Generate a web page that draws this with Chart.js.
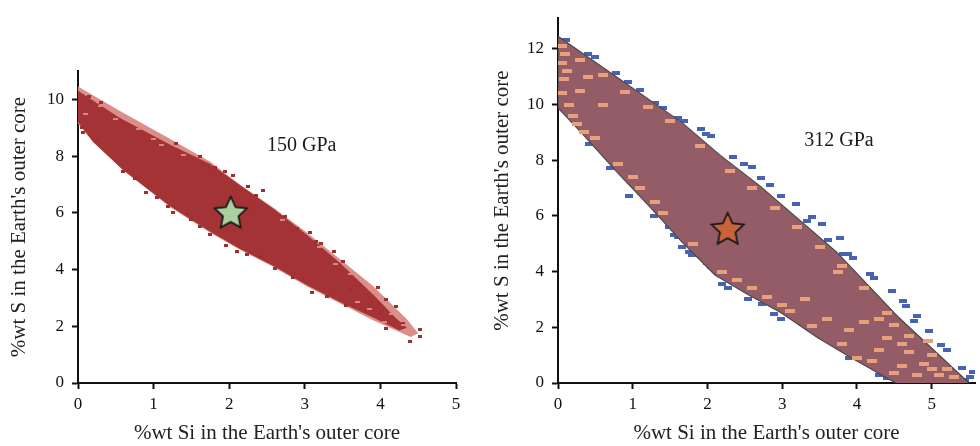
<!DOCTYPE html>
<html>
<head>
<meta charset="utf-8">
<script src="https://cdn.jsdelivr.net/npm/chart.js@4.4.1/dist/chart.umd.min.js"></script>
<style>
    html, body { margin: 0; padding: 0; background: #fff; }
    #wrap { position: relative; width: 980px; height: 446px; overflow: hidden; }
    #c150 { position: absolute; left: 0; top: 0; }
    #c312 { position: absolute; left: 490px; top: 0; }
</style>
</head>
<body>
<div id="wrap">
    <canvas id="c150" width="470" height="446"></canvas>
    <canvas id="c312" width="490" height="446"></canvas>
</div>
<script>
// ---- data (x = %wt Si, y = %wt S) ----
const xTitle = "%wt Si in the Earth's outer core";
const yTitle = "%wt S in the Earth's outer core";
const xTicks150 = [0, 1, 2, 3, 4, 5];
const yTicks150 = [0, 2, 4, 6, 8, 10];
const xTicks312 = [0, 1, 2, 3, 4, 5];
const yTicks312 = [0, 2, 4, 6, 8, 10, 12];

// 150 GPa panel
const label150 = '150 GPa';
const label150At = [2.96, 8.38];
const envelope150 = [
    [0, 10.45], [0.55, 9.6], [1.22, 8.6], [1.75, 7.8], [2.14, 7.0], [2.6, 6.15],
    [3.03, 5.3], [3.47, 4.35], [3.91, 3.4], [4.35, 2.25], [4.5, 1.75],
    [4.4, 1.62], [3.91, 2.2], [3.47, 2.8], [3.03, 3.4], [2.58, 4.1], [2.14, 4.7],
    [1.75, 5.3], [1.22, 6.2], [0.6, 7.5], [0.2, 8.5], [0, 9.15], [0, 10.45]
];
const cloud150 = [
    [0, 10.3], [0.55, 9.35], [1.22, 8.4], [1.75, 7.72], [2.14, 6.98], [2.6, 6.12],
    [3.03, 5.22], [3.47, 4.22], [3.91, 3.1], [4.2, 2.3], [4.35, 1.95],
    [4.25, 1.85], [3.91, 2.3], [3.47, 2.85], [3.03, 3.45], [2.58, 4.13], [2.14, 4.73],
    [1.75, 5.33], [1.22, 6.23], [0.6, 7.5], [0.2, 8.5], [0, 9.2], [0, 10.3]
];
const dots150 = [
    [0.06, 8.82], [0.6, 7.47], [0.9, 6.71], [1.19, 6.23], [1.26, 6.0], [1.44, 5.97],
    [1.61, 5.53], [1.96, 4.85], [2.23, 4.53], [2.41, 4.47], [2.85, 3.71], [3.09, 3.2],
    [1.61, 8.0], [1.81, 7.59], [2.05, 7.33], [2.25, 6.94], [2.45, 6.79], [2.74, 5.88],
    [3.07, 5.29], [3.22, 4.91], [3.38, 4.65], [3.97, 3.35], [4.08, 2.94], [4.08, 1.91],
    [4.39, 1.47], [4.53, 1.88], [4.53, 1.65], [4.2, 2.7], [4.3, 2.1], [4.0, 2.5],
    [3.8, 2.6], [3.6, 3.3], [0.3, 9.9], [0.15, 10.1], [0.75, 7.2], [1.05, 6.55],
    [1.5, 5.75], [1.75, 5.25], [2.1, 4.65], [2.6, 4.05], [3.3, 3.05], [3.55, 2.75],
    [1.3, 8.45], [1.95, 7.45], [2.35, 6.6], [2.9, 5.45], [3.15, 5.0], [3.5, 4.3],
    [0.05, 9.0], [0.25, 8.55]
];
const specks150 = [
    [0.3, 9.75], [0.8, 8.95], [1.1, 8.4], [1.4, 8.05], [2.7, 5.75], [3.4, 4.2],
    [3.6, 3.85], [3.95, 3.15], [4.15, 2.45], [4.3, 2.05], [3.7, 2.85], [0.1, 9.5],
    [0.5, 9.3], [1.0, 8.6], [3.2, 4.8], [3.85, 2.6], [4.05, 2.15]
];
const star150 = [[2.02, 5.97]];

// 312 GPa panel
const label312 = '312 GPa';
const label312At = [3.76, 8.69];
const envelope312 = [
    [0, 12.45], [0.78, 11.0], [1.66, 9.35], [2.16, 8.2], [2.71, 7.06], [3.73, 4.7],
    [4.56, 2.35], [5.5, 0], [5.62, -0.3],
    [4.7, -0.3], [4.52, 0], [3.9, 0.94], [3.46, 1.65], [2.98, 2.53], [2.54, 3.18],
    [2.1, 3.88], [1.66, 5.06], [1.22, 6.35], [0.78, 7.6], [0.33, 8.94], [0, 9.88], [0, 12.45]
];
const blue312 = [
    [0.11, 12.3], [0.4, 11.82], [0.5, 11.7], [0.78, 11.12], [0.93, 10.82], [1.1, 10.53],
    [1.3, 10.06], [1.41, 9.88], [1.6, 9.5], [1.68, 9.41], [1.92, 9.12], [2.05, 8.88],
    [1.98, 8.95], [2.34, 8.12], [2.49, 7.88], [2.6, 7.75], [2.71, 7.35], [2.84, 7.12],
    [2.98, 6.71], [3.18, 6.41], [3.33, 5.82], [3.4, 5.95], [3.53, 5.7], [3.61, 5.12],
    [3.77, 5.2], [3.81, 4.65], [3.88, 4.65], [3.95, 4.5], [4.23, 3.76], [4.18, 3.9],
    [4.47, 3.32], [4.61, 2.94], [4.66, 2.75], [4.76, 2.23], [4.8, 2.4], [4.96, 1.88],
    [5.13, 1.35], [5.2, 1.2], [5.4, 0.53], [5.51, 0.23], [5.45, 0.1], [5.55, 0.4],
    [0.42, 8.59], [0.69, 7.71], [0.95, 6.71], [1.28, 6.0], [1.48, 5.59], [1.61, 5.24],
    [1.55, 5.3], [1.66, 4.88], [1.79, 4.59], [1.75, 4.7], [2.05, 4.18], [2.0, 4.3],
    [2.27, 3.41], [2.2, 3.55], [2.54, 3.0], [2.73, 2.82], [2.89, 2.47], [2.98, 2.29],
    [3.9, 0.88], [4.4, 0.18], [4.3, 0.3]
];
const peach312 = [
    [0.05, 12.1], [0.05, 11.5], [0.08, 10.9], [0.06, 10.4], [0.15, 10.0], [0.3, 11.6],
    [0.6, 11.05], [0.9, 10.45], [1.2, 9.9], [1.5, 9.4], [1.9, 8.5], [2.3, 7.6],
    [2.6, 7.0], [2.9, 6.3], [3.2, 5.6], [3.5, 4.9], [3.8, 4.2], [3.75, 4.0],
    [4.1, 3.4], [4.4, 2.5], [4.3, 2.3], [4.7, 1.7], [4.6, 1.4], [5.0, 1.0],
    [4.9, 0.7], [5.2, 0.5], [5.1, 0.3], [0.2, 9.6], [0.5, 8.8], [0.8, 7.85],
    [1.1, 7.0], [1.4, 6.1], [1.8, 5.0], [2.2, 4.0], [2.6, 3.4], [3.0, 2.8],
    [3.4, 2.05], [3.8, 1.4], [4.2, 0.8], [4.5, 0.35], [4.0, 0.9], [4.3, 1.2],
    [4.6, 0.6], [4.8, 0.3], [5.0, 0.5], [4.4, 1.6], [4.7, 1.1], [3.9, 1.9],
    [4.1, 2.2], [3.6, 2.3], [3.3, 3.0], [0.4, 11.0], [0.3, 10.5], [0.6, 10.0],
    [0.1, 11.8], [0.12, 11.2], [0.25, 9.3], [0.35, 9.0], [1.0, 7.4], [1.3, 6.5],
    [2.4, 3.7], [2.8, 3.1], [3.1, 2.6], [4.95, 1.5], [4.5, 2.1], [5.3, 0.2]
];
const star312 = [[2.27, 5.5]];

// ---- helpers ----
const serif = "'Liberation Serif', 'DejaVu Serif', serif";
const pts = arr => arr.map(([x, y]) => ({ x, y }));

function markImage(w, h, color) {
    const c = document.createElement('canvas');
    c.width = w; c.height = h;
    const g = c.getContext('2d');
    g.fillStyle = color;
    g.fillRect(0, 0, w, h);
    return c;
}

function starImage(r, fill) {
    const s = Math.ceil(r * 2 + 4);
    const c = document.createElement('canvas');
    c.width = s; c.height = s;
    const g = c.getContext('2d');
    g.translate(s / 2, s / 2);
    g.beginPath();
    for (let i = 0; i < 10; i++) {
        const rad = i % 2 === 0 ? r : r * 0.48;
        const a = -Math.PI / 2 + i * Math.PI / 5;
        g.lineTo(rad * Math.cos(a), rad * Math.sin(a));
    }
    g.closePath();
    g.fillStyle = fill;
    g.fill();
    g.lineWidth = 1.7;
    g.strokeStyle = '#151515';
    g.stroke();
    return c;
}

function axes(xMax, yMax, xTicks, yTicks, yWidth, yTitlePad) {
    const tickFont = { family: serif, size: 17 };
    const titleFont = { family: serif, size: 21, lineHeight: 1.2 };
    const grid = () => ({ drawOnChartArea: false, drawTicks: true, tickLength: 6, tickWidth: 2, tickColor: '#111' });
    return {
        x: {
            type: 'linear', min: 0, max: xMax, z: 1,
            grid: grid(), border: { color: '#111', width: 2 },
            afterBuildTicks: s => { s.ticks = xTicks.map(v => ({ value: v })); },
            ticks: { color: '#111', font: tickFont, padding: 5, maxRotation: 0, autoSkip: false },
            title: { display: true, text: xTitle, color: '#222', font: titleFont, padding: 0 },
            afterFit: s => { s.height = 63; }
        },
        y: {
            type: 'linear', min: 0, max: yMax, z: 1,
            grid: grid(), border: { color: '#111', width: 2 },
            afterBuildTicks: s => { s.ticks = yTicks.map(v => ({ value: v })); },
            ticks: { color: '#111', font: tickFont, padding: 8, autoSkip: false },
            title: { display: true, text: yTitle, color: '#222', font: titleFont, padding: { top: yTitlePad, bottom: 0 } },
            afterFit: s => { s.width = yWidth; }
        }
    };
}

function labelPlugin(text, at) {
    return {
        id: 'panelLabel',
        afterDatasetsDraw(chart) {
            const { ctx, scales } = chart;
            ctx.save();
            ctx.font = '20px ' + serif;
            ctx.fillStyle = '#1a1a1a';
            ctx.textAlign = 'center';
            ctx.textBaseline = 'middle';
            ctx.fillText(text, scales.x.getPixelForValue(at[0]), scales.y.getPixelForValue(at[1]));
            ctx.restore();
        }
    };
}

function polygon(data, fill, border, width, order) {
    return {
        data: pts(data), showLine: true, fill: 'shape', backgroundColor: fill,
        borderColor: border, borderWidth: width, pointRadius: 0, tension: 0, order
    };
}

function marks(data, img, order) {
    return { data: pts(data), pointStyle: img, pointRadius: 3, showLine: false, order };
}

const common = {
    responsive: false,
    animation: false,
    events: [],
    plugins: { legend: { display: false }, tooltip: { enabled: false } }
};

// ---- 150 GPa ----
new Chart(document.getElementById('c150'), {
    type: 'scatter',
    data: {
        datasets: [
            polygon(envelope150, '#dc8e89', 'rgba(0,0,0,0)', 0, 6),
            polygon(cloud150, '#a33335', 'rgba(0,0,0,0)', 0, 5),
            marks(dots150, markImage(4, 3, '#9d2f31'), 4),
            marks(specks150, markImage(5, 2, '#d98781'), 3),
            marks(star150, starImage(17, '#a9d0a1'), 1)
        ]
    },
    options: {
        ...common,
        layout: { padding: { top: 71, right: 14, left: 0, bottom: 0 } },
        scales: axes(5, 11, xTicks150, yTicks150, 78, 7)
    },
    plugins: [labelPlugin(label150, label150At)]
});

// ---- 312 GPa ----
new Chart(document.getElementById('c312'), {
    type: 'scatter',
    data: {
        datasets: [
            marks(blue312, markImage(8, 4, '#4862b4'), 7),
            polygon(envelope312, '#935c66', '#4a4a4a', 1.2, 6),
            marks(peach312, markImage(10, 4, '#e6a07c'), 4),
            marks(star312, starImage(17, '#c9643a'), 1)
        ]
    },
    options: {
        ...common,
        layout: { padding: { top: 12, right: 0, left: 0, bottom: 0 } },
        scales: axes(5.58, 13.1, xTicks312, yTicks312, 68, 0)
    },
    plugins: [labelPlugin(label312, label312At)]
});
</script>
</body>
</html>
